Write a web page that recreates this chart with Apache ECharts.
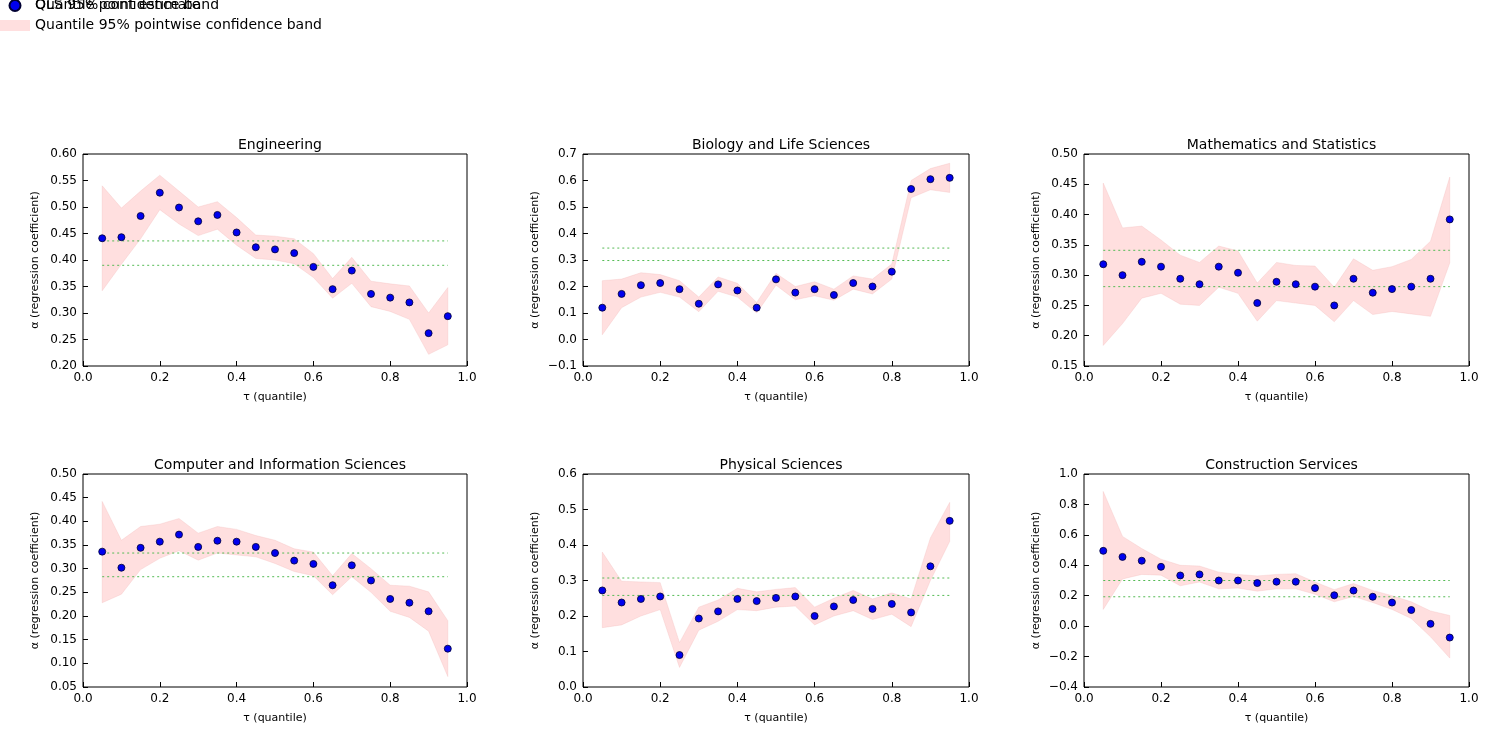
<!DOCTYPE html>
<html>
<head>
<meta charset="utf-8">
<script src="https://cdn.jsdelivr.net/npm/echarts@6/dist/echarts.min.js"></script>
<style>body{margin:0;background:#fff}#main{width:1510px;height:756px}</style>
</head>
<body>
<div id="main"></div>
<script>
// quantiles
const tau = [0.05,0.1,0.15,0.2,0.25,0.3,0.35,0.4,0.45,0.5,0.55,0.6,0.65,0.7,0.75,0.8,0.85,0.9,0.95];

const titles = ['Engineering','Biology and Life Sciences','Mathematics and Statistics',
  'Computer and Information Sciences','Physical Sciences','Construction Services'];

const engPoint = [.441,.443,.483,.527,.499,.473,.485,.452,.424,.420,.413,.387,.345,.380,.336,.329,.320,.262,.294];
const engUpper = [.540,.498,.530,.560,.530,.500,.510,.480,.447,.445,.440,.412,.365,.405,.360,.355,.351,.300,.348];
const engLower = [.342,.392,.440,.495,.468,.446,.458,.428,.403,.400,.393,.367,.328,.356,.312,.303,.288,.222,.240];
const engOls = [.436,.390];

const bioPoint = [.12,.172,.205,.213,.19,.135,.208,.185,.12,.227,.177,.19,.168,.213,.2,.256,.568,.605,.61];
const bioUpper = [.222,.228,.252,.245,.222,.16,.236,.212,.14,.25,.2,.218,.19,.24,.228,.285,.6,.645,.665];
const bioLower = [.018,.12,.16,.178,.16,.105,.182,.16,.1,.205,.15,.165,.148,.19,.172,.228,.535,.565,.555];
const bioOls = [.345,.298];

const mathPoint = [.318,.300,.322,.314,.294,.285,.314,.304,.254,.289,.285,.281,.250,.294,.271,.277,.281,.294,.392];
const mathUpper = [.452,.378,.381,.358,.333,.321,.348,.340,.287,.321,.316,.315,.280,.327,.308,.314,.326,.356,.462];
const mathLower = [.184,.220,.262,.270,.252,.250,.280,.270,.224,.258,.254,.250,.223,.258,.235,.240,.236,.232,.320];
const mathOls = [.341,.281];

const compPoint = [.336,.302,.344,.357,.372,.346,.359,.357,.346,.333,.317,.310,.265,.307,.275,.236,.228,.210,.131];
const compUpper = [.442,.360,.389,.394,.406,.375,.389,.383,.370,.360,.342,.335,.285,.332,.300,.265,.263,.251,.190];
const compLower = [.228,.246,.298,.322,.338,.318,.333,.329,.325,.311,.294,.285,.245,.283,.250,.210,.197,.168,.072];
const compOls = [.333,.283];

const physPoint = [.272,.238,.248,.255,.09,.193,.213,.248,.242,.251,.255,.2,.227,.245,.22,.234,.21,.34,.468];
const physUpper = [.38,.298,.296,.294,.125,.225,.245,.278,.268,.275,.28,.225,.25,.272,.248,.265,.248,.42,.52];
const physLower = [.167,.175,.2,.218,.055,.16,.185,.218,.215,.225,.228,.175,.2,.215,.19,.205,.17,.3,.41];
const physOls = [.307,.258];

const consPoint = [.495,.455,.43,.39,.333,.34,.3,.3,.283,.292,.292,.25,.203,.234,.193,.155,.106,.015,-.075];
const consUpper = [.885,.59,.51,.44,.4,.395,.355,.34,.33,.34,.345,.29,.24,.28,.235,.2,.16,.1,.07];
const consLower = [.11,.31,.34,.335,.265,.29,.245,.25,.23,.245,.245,.21,.16,.195,.155,.11,.05,-.07,-.21];
const consOls = [.30,.193];

const panels = [
  {p: engPoint, u: engUpper, l: engLower, o: engOls, min: 0.2, max: 0.6, step: 0.05, d: 2},
  {p: bioPoint, u: bioUpper, l: bioLower, o: bioOls, min: -0.1, max: 0.7, step: 0.1, d: 1},
  {p: mathPoint, u: mathUpper, l: mathLower, o: mathOls, min: 0.15, max: 0.5, step: 0.05, d: 2},
  {p: compPoint, u: compUpper, l: compLower, o: compOls, min: 0.05, max: 0.5, step: 0.05, d: 2},
  {p: physPoint, u: physUpper, l: physLower, o: physOls, min: 0, max: 0.6, step: 0.1, d: 1},
  {p: consPoint, u: consUpper, l: consLower, o: consOls, min: -0.4, max: 1.0, step: 0.2, d: 1}
];

const lefts = [83, 583, 1084];
const widths = [384, 386, 385];
const tops = [154, 474];
const heights = [212, 213];
const font = 'DejaVu Sans';
const bandColor = 'rgba(255,185,185,0.45)';
const olsColor = '#55bb55';

const grid = [], xAxis = [], yAxis = [], series = [], title = [];
panels.forEach((pn, i) => {
  const c = i % 3, r = Math.floor(i / 3);
  grid.push({left: lefts[c], top: tops[r], width: widths[c], height: heights[r],
    show: true, borderColor: '#000', borderWidth: 1, backgroundColor: 'transparent'});
  title.push({text: titles[i], left: lefts[c] + widths[c] / 2, top: tops[r] - 21, textAlign: 'center',
    textStyle: {fontFamily: font, fontSize: 14, fontWeight: 'normal', color: '#000'}});
  xAxis.push({type: 'value', gridIndex: i, min: 0, max: 1, interval: 0.2,
    axisLine: {show: false, onZero: false}, splitLine: {show: false},
    axisTick: {inside: true, length: 5, lineStyle: {color: '#000'}},
    axisLabel: {fontFamily: font, fontSize: 12, color: '#000', margin: 6, formatter: v => v.toFixed(1)},
    name: 'τ (quantile)', nameLocation: 'middle', nameGap: 26,
    nameTextStyle: {fontFamily: font, fontSize: 11, color: '#000'}});
  yAxis.push({type: 'value', gridIndex: i, min: pn.min, max: pn.max, interval: pn.step,
    axisLine: {show: false, onZero: false}, splitLine: {show: false},
    axisTick: {inside: true, length: 5, lineStyle: {color: '#000'}},
    axisLabel: {fontFamily: font, fontSize: 12, color: '#000', margin: 6,
      formatter: v => (Math.abs(v) < 1e-9 ? 0 : v).toFixed(pn.d).replace('-', '−')},
    name: 'α (regression coefficient)', nameLocation: 'middle', nameGap: 42,
    nameTextStyle: {fontFamily: font, fontSize: 11, color: '#000'}});
  // confidence band polygon built from the upper and lower arrays through the axis scales
  series.push({name: 'Quantile 95% pointwise confidence band', type: 'custom', xAxisIndex: i, yAxisIndex: i,
    itemStyle: {color: bandColor}, silent: true, z: 1,
    data: [[tau[0], pn.l[0]]],
    renderItem: function(params, api) {
      const pts = [];
      tau.forEach((t, k) => pts.push(api.coord([t, pn.u[k]])));
      for (let k = tau.length - 1; k >= 0; k--) pts.push(api.coord([tau[k], pn.l[k]]));
      return {type: 'polygon', shape: {points: pts},
        style: {fill: bandColor, stroke: 'rgba(240,170,170,0.5)', lineWidth: 0.5}};
    }});
  pn.o.forEach(v => {
    series.push({name: 'OLS 95% confidence band', type: 'line', xAxisIndex: i, yAxisIndex: i,
      symbol: 'none', z: 3, lineStyle: {type: [2, 3], width: 1, color: olsColor}, itemStyle: {color: olsColor},
      data: [[tau[0], v], [tau[tau.length - 1], v]]});
  });
  series.push({name: 'Quantile point estimate', type: 'scatter', xAxisIndex: i, yAxisIndex: i,
    symbolSize: 7, z: 5, itemStyle: {color: '#0000ee', borderColor: '#000033', borderWidth: 0.8, opacity: 1},
    data: tau.map((t, k) => [t, pn.p[k]])});
});

const myChart = echarts.init(document.getElementById('main'));
myChart.setOption({
  animation: false,
  backgroundColor: '#fff',
  title: title,
  legend: {
    orient: 'vertical', left: 575, top: 15,
    padding: [6, 8, 6, 8], itemGap: 6, itemWidth: 30, itemHeight: 11,
    borderColor: '#000', borderWidth: 1,
    textStyle: {fontFamily: font, fontSize: 14, color: '#000'},
    data: [
      {name: 'Quantile point estimate', icon: 'circle', itemStyle: {color: '#0000ee'}},
      {name: 'Quantile 95% pointwise confidence band', icon: 'rect', itemStyle: {color: bandColor}},
      {name: 'OLS 95% confidence band', icon: 'path://M0,0', itemStyle: {opacity: 0}}
    ]
  },
  grid: grid, xAxis: xAxis, yAxis: yAxis, series: series
});
</script>
</body>
</html>
